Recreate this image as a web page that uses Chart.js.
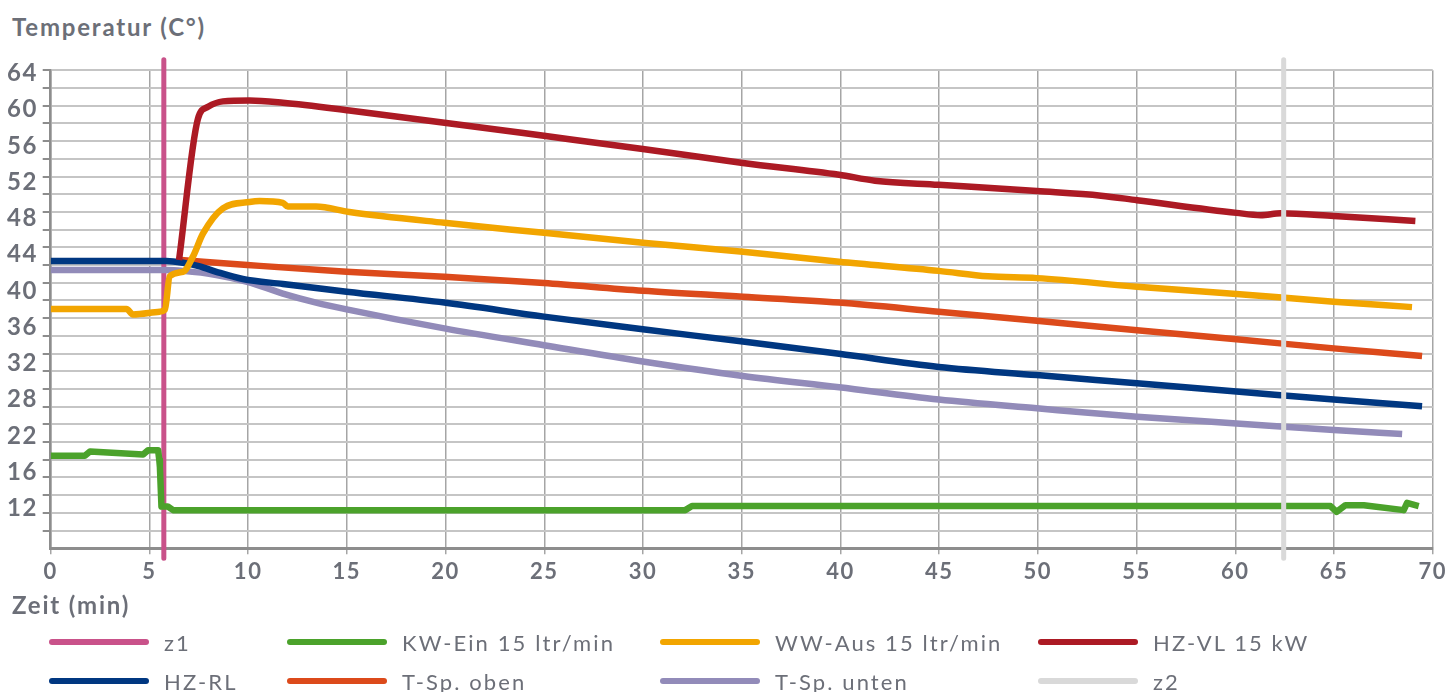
<!DOCTYPE html>
<html lang="de">
<head>
<meta charset="utf-8">
<title>Temperaturverlauf</title>
<script src="https://cdn.jsdelivr.net/npm/chart.js@4.4.1/dist/chart.umd.min.js"></script>
<style>
  html, body { margin: 0; padding: 0; background: #fff; }
  body { width: 1451px; height: 692px; position: relative; overflow: hidden;
         font-family: Lato, "Open Sans", sans-serif; color: #6c6f78; }
  #wrap { position: absolute; left: 0; top: 0; width: 1451px; height: 600px; }
  .axis-title { position: absolute; left: 12px; font-weight: 700; font-size: 24px; line-height: 28px; letter-spacing: 1.8px; }
  #ytitle { top: 13px; }
  #xtitle { top: 591px; }
  #legend { position: absolute; left: 0; top: 0; width: 1451px; height: 692px; pointer-events: none; }
  .item { position: absolute; display: flex; align-items: center; height: 30px; font-size: 22px; letter-spacing: 2.1px; white-space: nowrap; }
  .item .swatch { width: 100px; height: 6px; border-radius: 3px; margin-right: 15px; }
</style>
</head>
<body>
<div id="ytitle" class="axis-title">Temperatur (C°)</div>
<div id="wrap"><canvas id="chart" width="1451" height="600"></canvas></div>
<div id="xtitle" class="axis-title">Zeit (min)</div>
<div id="legend"></div>
<script>
// y labels as printed on the chart (spacing on the page is even)
const yTicks = [12, 16, 22, 28, 32, 36, 40, 44, 48, 52, 56, 60, 64];

// time markers z1 / z2 (min)
const markerTime = [5.73, 62.45];

// KW-Ein 15 ltr/min
const kwTime = [0, 1.73, 1.99, 4.68, 4.93, 5.44, 5.5, 5.53, 5.61, 5.93, 6.2, 10.07, 32.14, 32.48, 64.82, 65.13, 65.58, 66.51, 68.53, 68.7, 69.29];
const kwTemp = [18.7, 18.7, 19.4, 18.9, 19.6, 19.6, 18.0, 16.9, 12.2, 12.2, 11.8, 11.8, 11.8, 12.25, 12.25, 11.6, 12.35, 12.35, 11.8, 12.6, 12.25];

// WW-Aus 15 ltr/min
const wwTime = [0, 3.84, 4.17, 5.52, 5.78, 6.03, 6.7, 7.21, 7.71, 8.72, 10.07, 10.58, 11.76, 12.01, 13.44, 15.13, 19.94, 24.98, 29.99, 35.06, 39.93, 44.98, 47.47, 49.95, 55.02, 60.06, 64.99, 68.95];
const wwTemp = [38.0, 38.0, 37.4, 37.7, 37.9, 41.6, 42.1, 43.8, 46.3, 49.1, 49.8, 49.9, 49.7, 49.3, 49.3, 48.7, 47.5, 46.4, 45.3, 44.3, 43.2, 42.2, 41.6, 41.4, 40.45, 39.65, 38.8, 38.2];

// HZ-VL 15 kW
const vlTime = [6.5, 7.46, 7.97, 8.72, 10.07, 11.76, 15.13, 19.94, 24.98, 29.99, 35.06, 39.93, 41.75, 44.98, 49.95, 53.2, 55.02, 60.06, 61.29, 62.3, 64.99, 69.12];
const vlTemp = [43.4, 59.0, 60.3, 60.9, 61.0, 60.75, 59.9, 58.55, 57.1, 55.65, 54.1, 52.8, 52.15, 51.7, 51.0, 50.5, 50.0, 48.6, 48.35, 48.55, 48.25, 47.7];

// HZ-RL
const rlTime = [0, 5.86, 6.7, 7.55, 8.39, 9.73, 11.76, 14.99, 19.94, 24.98, 29.99, 35.06, 39.93, 44.98, 49.95, 55.02, 60.06, 64.99, 69.46];
const rlTemp = [43.3, 43.3, 43.1, 42.7, 42.1, 41.3, 40.75, 39.9, 38.7, 37.15, 35.75, 34.4, 33.05, 31.6, 30.7, 29.8, 28.9, 28.0, 26.9];

// T-Sp. oben
const obenTime = [6.6, 9.96, 14.99, 19.94, 24.98, 29.99, 35.06, 39.93, 44.98, 49.95, 55.02, 60.06, 64.99, 69.46];
const obenTemp = [43.4, 42.85, 42.1, 41.55, 40.85, 40.0, 39.35, 38.7, 37.7, 36.7, 35.65, 34.65, 33.65, 32.8];

// T-Sp. unten
const untenTime = [0, 5.83, 6.7, 8.39, 9.96, 11.76, 13.44, 14.99, 19.94, 24.98, 29.99, 35.06, 39.93, 44.98, 49.95, 55.02, 60.06, 64.99, 68.45];
const untenTemp = [42.3, 42.3, 42.2, 41.75, 41.0, 39.7, 38.7, 37.95, 35.85, 34.0, 32.2, 30.6, 29.35, 28.0, 26.55, 25.15, 24.05, 22.95, 22.3];

const textColor = '#6c6f78';
const yMin = 7.59, yMax = 64.33;       // range of the plot box
const markerTop = 65.5, markerBottom = 6.5;

function pairs(xs, ys) {
  return xs.map((x, i) => ({ x: x, y: ys[i] }));
}

// the printed labels are evenly spaced, so the axis is linear between labels
function valueToIndex(v) {
  const t = yTicks, n = t.length;
  if (v <= t[0]) return (v - t[0]) / (t[1] - t[0]);
  if (v >= t[n - 1]) return n - 1 + (v - t[n - 1]) / (t[n - 1] - t[n - 2]);
  for (let i = 0; i < n - 1; i++) {
    if (v <= t[i + 1]) return i + (v - t[i]) / (t[i + 1] - t[i]);
  }
}
function indexToValue(k) {
  const t = yTicks, n = t.length;
  if (k <= 0) return t[0] + k * (t[1] - t[0]);
  if (k >= n - 1) return t[n - 1] + (k - n + 1) * (t[n - 1] - t[n - 2]);
  const i = Math.floor(k);
  return t[i] + (k - i) * (t[i + 1] - t[i]);
}

class LabelStepScale extends Chart.LinearScale {
  static id = 'labelstep';
  static defaults = Chart.LinearScale.defaults;
  getPixelForValue(value) {
    if (value === null || value === undefined || isNaN(value)) return NaN;
    const a = valueToIndex(this.min), b = valueToIndex(this.max);
    return this.getPixelForDecimal((valueToIndex(value) - a) / (b - a));
  }
  getValueForPixel(pixel) {
    const a = valueToIndex(this.min), b = valueToIndex(this.max);
    return indexToValue(a + this.getDecimalForPixel(pixel) * (b - a));
  }
}
Chart.register(LabelStepScale);

// wider tracking on the canvas labels, like the printed figures
const spacingPlugin = {
  id: 'spacing',
  beforeUpdate: (c) => { c.ctx.letterSpacing = '1.5px'; },
  beforeDraw: (c) => { c.ctx.letterSpacing = '1.5px'; }
};

function series(label, xs, ys, color, order, smooth) {
  return {
    label: label,
    data: pairs(xs, ys),
    borderColor: color,
    backgroundColor: color,
    borderWidth: 6.5,
    pointRadius: 0,
    fill: false,
    borderJoinStyle: 'round',
    cubicInterpolationMode: smooth ? 'monotone' : 'default',
    tension: 0,
    order: order,
    xAxisID: 'x',
    yAxisID: 'y'
  };
}

function marker(label, t, color, order) {
  return {
    label: label,
    data: [{ x: t, y: markerTop }, { x: t, y: markerBottom }],
    borderColor: color,
    backgroundColor: color,
    borderWidth: 5,
    borderCapStyle: 'round',
    pointRadius: 0,
    fill: false,
    clip: false,
    order: order,
    xAxisID: 'x',
    yAxisID: 'y'
  };
}

const datasets = [
  marker('z1', markerTime[0], '#c9528a', 10),
  series('KW-Ein 15 ltr/min', kwTime, kwTemp, '#4ba22b', 5, false),
  series('WW-Aus 15 ltr/min', wwTime, wwTemp, '#f2a500', 1, true),
  series('HZ-VL 15 kW', vlTime, vlTemp, '#ac1a24', 0, true),
  series('HZ-RL', rlTime, rlTemp, '#003781', 2, true),
  series('T-Sp. oben', obenTime, obenTemp, '#dc4a1b', 3, true),
  series('T-Sp. unten', untenTime, untenTemp, '#928bb9', 4, true),
  marker('z2', markerTime[1], '#d9d9d9', -1)
];

const ctx = document.getElementById('chart').getContext('2d');
const chart = new Chart(ctx, {
  type: 'line',
  data: { datasets: datasets },
  plugins: [spacingPlugin],
  options: {
    responsive: false,
    animation: false,
    events: [],
    layout: { padding: { left: 7, right: 15.3, top: 70.3, bottom: 15.7 } },
    plugins: { legend: { display: false }, tooltip: { enabled: false } },
    scales: {
      x: {
        type: 'linear',
        position: 'bottom',
        min: 0,
        max: 70,
        afterFit: (s) => { s.height = 36; },
        ticks: {
          stepSize: 5,
          maxTicksLimit: 20,
          maxRotation: 0,
          autoSkip: false,
          padding: 4,
          color: textColor,
          font: { family: 'Lato', size: 22, weight: 'bold' }
        },
        grid: { color: '#a5a5a5', lineWidth: 1.5, tickLength: 6, tickColor: '#a5a5a5' },
        border: { display: true, color: '#8d8d8d', width: 3 }
      },
      y: {
        type: 'labelstep',
        position: 'left',
        weight: 1,
        min: yMin,
        max: yMax,
        afterBuildTicks: (s) => { s.ticks = yTicks.map(v => ({ value: v })); },
        afterFit: (s) => { s.width = 35.7; },
        ticks: {
          crossAlign: 'far',
          padding: 0,
          color: textColor,
          font: { family: 'Lato', size: 24, weight: 'bold' },
          callback: (v) => String(v)
        },
        grid: { display: false, drawTicks: false },
        border: { display: false }
      },
      g: {
        type: 'linear',
        axis: 'y',
        position: 'left',
        weight: 0,
        min: 0,
        max: 27,
        afterBuildTicks: (s) => {
          const t = [];
          for (let i = 0; i <= 27; i++) t.push({ value: i });
          s.ticks = t;
        },
        ticks: { display: false },
        grid: {
          lineWidth: 2,
          tickLength: 8,
          color: (c) => c.tick && c.tick.value === 0 ? 'rgba(0,0,0,0)' : '#c5c5c5',
          tickColor: (c) => c.tick && c.tick.value === 0 ? 'rgba(0,0,0,0)' : '#8d8d8d'
        },
        border: { display: true, color: '#8d8d8d', width: 2.5 }
      }
    }
  }
});

// legend: two rows of four, built from the datasets
const legendCols = [49, 287, 660, 1038];
const legendRows = [627, 666];
const legendEl = document.getElementById('legend');
chart.data.datasets.forEach((ds, i) => {
  const item = document.createElement('div');
  item.className = 'item';
  item.style.left = legendCols[i % 4] + 'px';
  item.style.top = legendRows[Math.floor(i / 4)] + 'px';
  const sw = document.createElement('span');
  sw.className = 'swatch';
  sw.style.background = ds.borderColor;
  const tx = document.createElement('span');
  tx.textContent = ds.label;
  item.appendChild(sw);
  item.appendChild(tx);
  legendEl.appendChild(item);
});
</script>
</body>
</html>
